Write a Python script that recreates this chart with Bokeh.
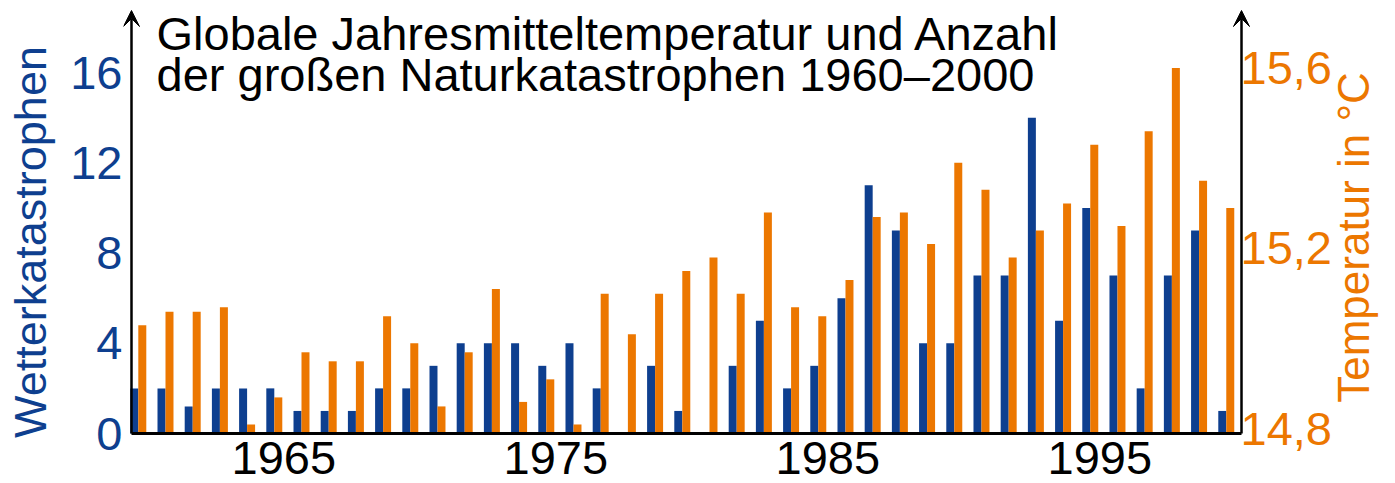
import math
from bokeh.plotting import figure
from bokeh.models import (Range1d, LinearAxis, FixedTicker, Arrow, VeeHead, Label)
from bokeh.core.properties import value
from bokeh.transform import dodge
from bokeh.embed import file_html
from bokeh.resources import INLINE

# ---------------- data ----------------
years = list(range(1960, 2001))
disasters = [2, 2, 1.2, 2, 2, 2, 1, 1, 1, 2,
             2, 3, 4, 4, 4, 3, 4, 2, 0, 3,
             1, 0, 3, 5, 2, 3, 6, 11, 9, 4,
             4, 7, 7, 14, 5, 10, 7, 2, 7, 9,
             1]
temperature = [15.04, 15.07, 15.07, 15.08, 14.82, 14.88, 14.98, 14.96, 14.96, 15.06,
               15.00, 14.86, 14.98, 15.12, 14.87, 14.92, 14.82, 15.11, 15.02, 15.11,
               15.16, 15.19, 15.11, 15.29, 15.08, 15.06, 15.14, 15.28, 15.29, 15.22,
               15.40, 15.34, 15.19, 15.25, 15.31, 15.44, 15.26, 15.47, 15.61, 15.36,
               15.30]
tick_years = [1965, 1975, 1985, 1995]
tick_labels = ["1965", "1975", "1985", "1995"]
left_ticks = [0, 4, 8, 12, 16]
right_ticks = [14.8, 15.2, 15.6]
right_tick_labels = ["14,8", "15,2", "15,6"]
title_lines = ["Globale Jahresmitteltemperatur und Anzahl",
               "der großen Naturkatastrophen 1960–2000"]
left_label = "Wetterkatastrophen"
right_label = "Temperatur in °C"

BLUE = "#0E3F8F"
ORANGE = "#EC7700"
FONT = "Liberation Sans"

# ---------------- geometry ----------------
W, H = 1395, 483
PX_X = 27.2            # px per year
PX_Y = 22.56           # px per disaster unit
FRAME_LEFT = 123       # px
AXIS_LEFT = 131        # px, left axis line
AXIS_RIGHT = 1241      # px, right axis line
ARROW_TIP = 10         # px, tip of the axis arrows
BASE_Y = 433           # px, x axis line
X0, X1 = 1959.40, 2000.21      # where the vertical axis lines sit (data)
Y_ARROW = (BASE_Y - ARROW_TIP) / PX_Y
Y_TOP = BASE_Y / PX_Y
Y_BOT = -(H - BASE_Y) / PX_Y
T0 = 14.8
TEMP_PER_UNIT = 0.05

p = figure(width=W, height=H, output_backend="svg", toolbar_location=None,
           x_range=Range1d(X0 - (AXIS_LEFT - FRAME_LEFT) / PX_X,
                           X1 + (W - AXIS_RIGHT) / PX_X),
           y_range=Range1d(Y_BOT, Y_TOP),
           x_axis_type=None, y_axis_type=None,
           min_border_left=FRAME_LEFT, min_border_right=0,
           min_border_top=0, min_border_bottom=0)
p.extra_y_ranges = {"temp": Range1d(T0 + Y_BOT * TEMP_PER_UNIT, T0 + Y_TOP * TEMP_PER_UNIT)}
p.outline_line_color = None
p.background_fill_color = "white"
p.border_fill_color = "white"
p.grid.visible = False

src = dict(year=years, disasters=disasters, temp=temperature)
p.vbar(x=dodge("year", -0.497, range=p.x_range), top="disasters", bottom=0,
       width=0.294, source=src, fill_color=BLUE, line_color=None)
p.vbar(x=dodge("year", -0.203, range=p.x_range), top="temp", bottom=T0,
       width=0.294, source=src, fill_color=ORANGE, line_color=None,
       y_range_name="temp")

# left axis
la = LinearAxis(ticker=FixedTicker(ticks=left_ticks), axis_label=left_label)
la.axis_line_color = None
la.major_tick_line_color = None
la.minor_tick_line_color = None
la.major_tick_out = 0
la.major_tick_in = 0
la.minor_tick_out = 0
la.minor_tick_in = 0
la.major_label_text_font = FONT
la.major_label_text_font_size = "47px"
la.major_label_text_color = BLUE
la.major_label_standoff = 1
la.axis_label_text_font = FONT
la.axis_label_text_font_style = "normal"
la.axis_label_text_font_size = "45px"
la.axis_label_text_color = BLUE
la.axis_label_standoff = 11
p.add_layout(la, "left")

# right temperature scale (drawn inside the extended frame)
p.text(x=[X1] * len(right_ticks), y=right_ticks, text=right_tick_labels,
       y_range_name="temp", x_offset=-1, y_offset=-5,
       text_align="left", text_baseline="middle",
       text_font=value(FONT), text_font_size=value("47px"), text_color=ORANGE)
p.add_layout(Label(x=X1, y=0, x_offset=112, y_offset=196, text=right_label,
                   angle=math.pi / 2, angle_units="rad",
                   text_font=FONT, text_font_size="44px", text_color=ORANGE,
                   text_baseline="middle", text_align="center"))

# x axis line and its tick labels
p.add_layout(Arrow(x_start=X0, y_start=0, x_end=X1, y_end=0, end=None,
                   line_color="black", line_width=3))
p.text(x=tick_years, y=[0] * len(tick_years), text=tick_labels, y_offset=8,
       text_align="center", text_baseline="top",
       text_font=value(FONT), text_font_size=value("47px"), text_color="black")

# vertical axis lines with arrow heads
for xa in (X0, X1):
    p.add_layout(Arrow(x_start=xa, y_start=0, x_end=xa, y_end=Y_ARROW,
                       line_color="black", line_width=2.5,
                       end=VeeHead(size=16, fill_color="black", line_color="black", line_width=1)))

# title
for i, line in enumerate(title_lines):
    p.add_layout(Label(x=X0, y=Y_ARROW, x_offset=25, y_offset=4 - 41 * i, text=line,
                       text_font=FONT, text_font_size="47px", text_color="black",
                       text_baseline="top", text_align="left"))

open("out.html", "w").write(file_html(p, INLINE))
